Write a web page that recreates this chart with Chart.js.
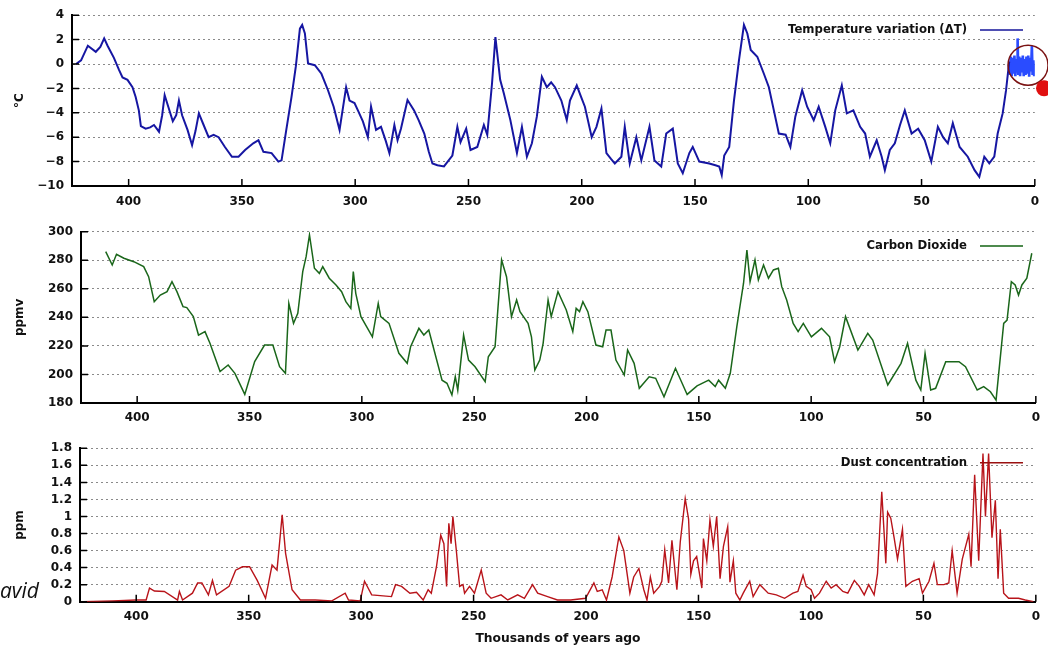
<!DOCTYPE html>
<html>
<head>
<meta charset="utf-8">
<script src="https://cdn.jsdelivr.net/npm/chart.js@4.4.0/dist/chart.umd.min.js"></script>
<style>
body { margin: 0; background: #fff; width: 1048px; height: 646px; overflow: hidden; position: relative; }
canvas { position: absolute; left: 0; }
#sig { position: absolute; left: 0; top: 576px; font: italic 21px "Open Sans", sans-serif; color: #111; }
</style>
</head>
<body>
<canvas id="tempChart" width="1048" height="212" style="top:0px"></canvas>
<canvas id="co2Chart" width="1048" height="230" style="top:210px"></canvas>
<canvas id="dustChart" width="1048" height="226" style="top:420px"></canvas>
<div id="sig">avid</div>
<script>
// x axis: thousands of years ago (reversed, 425 -> 0)
var ageTicks = [400, 350, 300, 250, 200, 150, 100, 50, 0];

// temperature variation, deg C
var tempAge = [423.2, 421, 418, 414.5, 412.5, 410.8, 409.3, 406.5, 404.2, 402.7, 400.5, 398.3, 396.9, 395.5, 394.6, 392.5, 390.5, 388.8, 386.6, 385.2,
    384.1, 382.5, 380.5, 379, 377.8, 376.4, 374, 372, 370.5, 369, 366.9, 364.7, 362.5, 360.3, 357.5, 354.4, 351.5, 348.6, 345, 342.7,
    340.5, 336.9, 333.9, 332.5, 330.5, 328.1, 326.2, 324.4, 323.4, 322.2, 320.8, 317.8, 314.9, 312, 309.5, 306.9, 304, 302.5, 300.3, 298.8,
    296.6, 294.4, 293, 290.8, 288.6, 286.5, 284.9, 282.7, 281.3, 279.8, 276.9, 274, 272, 269.5, 267.5, 265.9, 263.7, 260.8, 257.1, 254.9,
    253.5, 251, 249.1, 246.1, 243.2, 241.7, 239.6, 238.1, 236, 234.4, 231.5, 228.6, 226.4, 224.2, 222, 219.8, 217.6, 215.4, 213.5, 211.8,
    209, 206.6, 205.2, 202.2, 200.5, 198.6, 195.6, 193.5, 191.3, 189.1, 187, 185.4, 182.5, 181, 178.8, 175.9, 173.7, 170.1, 167.9, 164.9,
    162.7, 159.8, 157.6, 155.4, 152.5, 151, 148.1, 143.7, 141, 139.3, 138.2, 137.1, 134.9, 132.8, 130.6, 128.4, 126.9, 125.4, 122.5, 119.6,
    117.4, 115.2, 113, 110, 107.9, 105.7, 102.7, 100.5, 97.6, 95.4, 92.5, 90.3, 88.1, 85.2, 83, 80.1, 77.1, 74.9, 72.8, 69.8,
    67.6, 66.2, 64, 61.8, 59.5, 57.4, 54.4, 51.5, 48.6, 45.7, 42.8, 40.5, 38.4, 36.2, 33.2, 29.6, 26.6, 24.5, 22.3, 20.1,
    17.9, 16.4, 14.2, 12.7, 11.3];
var tempVal = [0.0, 0.3, 1.5, 1.0, 1.4, 2.1, 1.5, 0.5, -0.5, -1.1, -1.3, -1.9, -2.7, -3.8, -5.1, -5.3, -5.2, -5.0, -5.55, -4.2,
    -2.55, -3.5, -4.7, -4.2, -3.0, -4.2, -5.4, -6.65, -5.5, -4.05, -5.0, -6.0, -5.8, -6.0, -6.8, -7.6, -7.6, -7.05, -6.5, -6.25,
    -7.2, -7.3, -8.0, -7.9, -5.5, -2.7, -0.2, 2.9, 3.2, 2.5, 0.05, -0.1, -0.8, -2.15, -3.5, -5.4, -1.9, -3.0, -3.2, -3.8,
    -4.7, -6.0, -3.5, -5.4, -5.15, -6.3, -7.3, -5.0, -6.25, -5.3, -2.95, -3.8, -4.6, -5.7, -7.2, -8.15, -8.3, -8.4, -7.5, -5.15,
    -6.4, -5.3, -7.05, -6.8, -5.0, -5.8, -1.6, 2.2, -1.3, -2.4, -4.6, -7.3, -5.15, -7.6, -6.5, -4.3, -1.05, -1.9, -1.5, -1.9,
    -3.0, -4.6, -3.0, -1.75, -2.6, -3.5, -6.0, -5.15, -3.65, -7.3, -7.8, -8.15, -7.6, -5.15, -8.15, -6.0, -7.9, -5.15, -7.9, -8.4,
    -5.7, -5.3, -8.15, -8.95, -7.3, -6.8, -8.0, -8.15, -8.3, -8.4, -9.1, -7.5, -6.8, -3.0, 0.3, 3.2, 2.5, 1.15, 0.6, -0.8,
    -1.9, -3.8, -5.7, -5.8, -6.8, -4.3, -2.15, -3.5, -4.6, -3.5, -5.15, -6.5, -3.8, -1.75, -4.05, -3.8, -5.15, -5.7, -7.6, -6.25,
    -7.6, -8.7, -7.05, -6.5, -5.0, -3.8, -5.7, -5.3, -6.25, -8.0, -5.15, -6.0, -6.5, -4.85, -6.8, -7.6, -8.7, -9.25, -7.6, -8.15,
    -7.6, -5.7, -4.05, -2.15, 0.2];
// last ~11 ky, drawn brighter
var recentAge = [11.3, 11.0, 10.6, 10.2, 9.8, 9.4, 9.0, 8.6, 8.2, 7.8, 7.6, 7.3, 6.9, 6.5, 6.1, 5.7, 5.3, 4.9, 4.5, 4.1,
    3.7, 3.3, 2.9, 2.5, 2.1, 1.7, 1.3, 1.0, 0.6, 0.3];
var recentVal = [0.2, -0.9, 0.6, -1.0, 0.5, -0.8, 0.7, -1.0, 0.4, -0.6, 2.1, -0.9, 0.6, -1.0, 0.5, -0.7, 0.7, -1.0, 0.4, -0.9,
    0.6, -0.8, 0.7, -1.05, 0.5, -0.6, 1.5, -0.9, 0.3, -1.0];

// carbon dioxide, ppmv
var co2Age = [414, 411.1, 409.2, 405.9, 401.5, 397.1, 394.9, 392.4, 389.7, 386.7, 384.5, 382.3, 379.6, 377.9, 375, 372.7, 369.8, 367.6, 363.1, 359.5,
    356.5, 352.1, 347.7, 343.3, 339.6, 336.6, 334, 332.5, 330.4, 328.5, 326.3, 324.8, 323.3, 321.1, 318.9, 317.4, 314.5, 311.5, 309, 307.1,
    304.9, 303.8, 302.7, 300.4, 295.3, 292.7, 291.6, 287.9, 283.5, 279.8, 278.3, 274.6, 272.4, 270.2, 264.3, 262.1, 259.9, 258.4, 257.3, 254.7,
    252.5, 249.6, 245.1, 243.7, 240.7, 237.8, 235.6, 233.4, 231.1, 229.6, 226, 224.5, 223, 220.8, 219.3, 217.1, 215.7, 212.7, 209, 206.1,
    204.6, 203.1, 201.6, 199.4, 195.8, 192.8, 191.3, 189.1, 186.9, 183.2, 181.7, 178.8, 176.5, 172.1, 169.2, 165.5, 160.4, 155.2, 150.8, 145.6,
    142.7, 141.2, 138.2, 136, 133.1, 130.1, 128.6, 127.2, 125, 123.5, 121.2, 119, 116.8, 114.6, 113.1, 110.9, 108, 105.8, 103.5, 99.9,
    95.4, 91.8, 89.6, 87.3, 84.7, 79.2, 74.8, 72.6, 65.9, 60, 57.1, 53.4, 51.2, 49.3, 46.8, 44.6, 40.1, 34.2, 31.3, 26.1,
    23.2, 20.2, 17.7, 14.3, 12.8, 10.9, 9.2, 7.7, 6.2, 4, 1.8];
var co2Val = [286, 276.7, 284.2, 281.4, 279, 275.5, 268.5, 251, 255.6, 258, 265, 258, 247.5, 246.8, 240.5, 227.6, 230, 221.8, 202, 206.6,
    200.8, 186, 209, 220.6, 220.6, 205.4, 200.8, 249.8, 235.8, 242.8, 272, 282.5, 297.7, 274.4, 270.8, 275.5, 267.4, 262.7, 258, 251,
    246.3, 272, 256.8, 240.5, 226.4, 249.8, 240.5, 235.8, 214.8, 207.8, 219.4, 232.3, 227.6, 231.1, 196, 193.8, 185.6, 198.4, 189, 227.6,
    210.1, 205.4, 195, 212.4, 219.4, 280.2, 268.5, 240.5, 252.2, 244, 235.8, 226.4, 203.1, 210.1, 221.8, 252.2, 240.5, 258, 245.2, 230,
    246.3, 244, 251, 244, 220.6, 219.4, 231.1, 231.1, 210.1, 199.6, 217.1, 207.8, 190.3, 198.4, 197.3, 184.4, 204.3, 186, 192, 196,
    191.5, 196, 190.3, 200.8, 233.4, 263.9, 287.2, 265, 280.2, 266.2, 276.7, 267.4, 273.2, 274.4, 261.5, 252.2, 235.8, 230, 235.8, 226.4,
    232.3, 226.4, 208.9, 219.4, 240.5, 217.1, 228.8, 224.1, 192.6, 207.8, 221.8, 196, 189.1, 214.8, 189.1, 190.3, 208.9, 208.9, 205.4, 189.1,
    191.5, 187.9, 182, 235.8, 238.1, 265, 262.7, 255.6, 262.7, 267.4, 284.9];

// dust concentration, ppm
var dustAge = [423.6, 410.4, 400, 395.6, 394.1, 391.9, 387.5, 381.6, 380.8, 379.4, 375, 372.7, 370.8, 367.9, 366.1, 364.3, 358.7, 355.8, 352.8, 349.6,
    346.2, 342.5, 339.6, 337.4, 335.1, 333.6, 330.7, 327, 320.4, 313, 307.1, 305.6, 300.4, 298.5, 295.3, 286.5, 284.7, 282, 278.3, 275.4,
    272.4, 270.2, 268.8, 266.5, 264.6, 263.2, 262, 261, 260, 259.2, 257.7, 256.2, 254.7, 254, 251.8, 249.6, 246.6, 244.4, 242.2, 237.8,
    234.8, 230.4, 227.4, 223.8, 221.5, 217.1, 212.7, 206.8, 200.2, 196.5, 195, 192.8, 190.9, 188.4, 185.4, 183.2, 180.5, 178.8, 176.5, 174.3,
    172.9, 171.4, 169.9, 167.3, 166.3, 165, 163.3, 161.8, 159.6, 158.1, 155.9, 154.4, 153.4, 152.2, 150.8, 148.5, 147.8, 146.3, 144.9, 143.4,
    141.9, 140.4, 138.9, 137, 136, 134.5, 133.4, 131.6, 130.1, 127.2, 125.7, 122.7, 119, 115.4, 111.7, 108, 105.8, 103.5, 102.1, 99.9,
    98.4, 96.2, 93.2, 91, 88.8, 85.8, 83.6, 80.7, 78.5, 76.3, 74.3, 71.9, 70.4, 68.5, 66.7, 65.9, 64.5, 63, 61.5, 59.3,
    57.8, 54.9, 51.9, 50.4, 47.5, 45.3, 43.8, 40.9, 38.7, 37.2, 35, 32.7, 29.8, 28.8, 27.2, 25.4, 23.5, 22.4, 21, 19.5,
    18, 16.8, 15.8, 14.3, 12.1, 7.7, 4.7, 1.1];
var dustVal = [0, 0.01, 0.02, 0.02, 0.16, 0.125, 0.12, 0.02, 0.12, 0.02, 0.1, 0.22, 0.22, 0.08, 0.25, 0.08, 0.18, 0.37, 0.41, 0.41,
    0.25, 0.04, 0.43, 0.37, 1.02, 0.57, 0.14, 0.02, 0.02, 0.01, 0.1, 0.02, 0.01, 0.24, 0.08, 0.06, 0.2, 0.18, 0.1, 0.11,
    0.02, 0.14, 0.1, 0.41, 0.78, 0.68, 0.18, 0.92, 0.68, 1.0, 0.61, 0.18, 0.2, 0.1, 0.18, 0.1, 0.37, 0.1, 0.04, 0.08,
    0.02, 0.08, 0.04, 0.2, 0.1, 0.06, 0.02, 0.02, 0.04, 0.22, 0.12, 0.14, 0.02, 0.29, 0.76, 0.6, 0.1, 0.29, 0.39, 0.14,
    0.02, 0.29, 0.1, 0.18, 0.24, 0.61, 0.22, 0.72, 0.14, 0.7, 1.21, 0.97, 0.32, 0.48, 0.53, 0.16, 0.74, 0.48, 0.96, 0.65,
    1.0, 0.27, 0.65, 0.88, 0.23, 0.48, 0.1, 0.02, 0.1, 0.24, 0.06, 0.2, 0.1, 0.08, 0.04, 0.1, 0.12, 0.31, 0.18, 0.14,
    0.04, 0.1, 0.24, 0.16, 0.2, 0.12, 0.1, 0.25, 0.18, 0.08, 0.2, 0.08, 0.33, 1.29, 0.45, 1.05, 0.98, 0.75, 0.5, 0.85,
    0.18, 0.24, 0.27, 0.1, 0.24, 0.45, 0.2, 0.2, 0.22, 0.6, 0.1, 0.5, 0.79, 0.41, 1.49, 0.48, 1.74, 1.0, 1.74, 0.75,
    1.19, 0.27, 0.85, 0.1, 0.04, 0.04, 0.02, 0];

var TICK_FONT = { family: "'DejaVu Sans', sans-serif", size: 12, weight: 'bold' };

function pairs(xs, ys) {
    var out = [];
    for (var i = 0; i < xs.length; i++) {
        out.push({ x: xs[i], y: ys[i] });
    }
    return out;
}

// gnuplot look: inward tick marks + legend key (text, then a line sample)
var gnuplotStyle = {
    id: 'gnuplotStyle',
    afterDraw: function(chart, args, opts) {
        var ctx = chart.ctx;
        var area = chart.chartArea;
        var xs = chart.scales.x, ys = chart.scales.y;
        ctx.save();
        ctx.strokeStyle = '#000';
        ctx.lineWidth = 1.5;
        ctx.beginPath();
        xs.ticks.forEach(function(t) {
            var px = xs.getPixelForValue(t.value);
            ctx.moveTo(px, area.bottom);
            ctx.lineTo(px, area.bottom - 7);
        });
        ys.ticks.forEach(function(t) {
            var py = ys.getPixelForValue(t.value);
            ctx.moveTo(area.left, py);
            ctx.lineTo(area.left + 7, py);
        });
        ctx.stroke();

        ctx.font = "bold 11.7px 'DejaVu Sans', sans-serif";
        ctx.fillStyle = '#111';
        ctx.textAlign = 'right';
        ctx.textBaseline = 'middle';
        ctx.fillText(opts.text, 967, opts.y);
        ctx.strokeStyle = opts.color;
        ctx.lineWidth = 1.5;
        ctx.beginPath();
        ctx.moveTo(980, opts.y);
        ctx.lineTo(1023, opts.y);
        ctx.stroke();

        if (opts.ring) {
            var cx = xs.getPixelForValue(opts.ring.x);
            var cy = ys.getPixelForValue(opts.ring.y);
            ctx.strokeStyle = '#7a1212';
            ctx.lineWidth = 1.5;
            ctx.beginPath();
            ctx.arc(cx, cy, 20, 0, Math.PI * 2);
            ctx.stroke();
            ctx.fillStyle = '#e01010';
            ctx.beginPath();
            ctx.arc(cx + 16, cy + 23, 8, 0, Math.PI * 2);
            ctx.fill();
        }
        ctx.restore();
    }
};

function makePanel(id, p) {
    return new Chart(document.getElementById(id), {
        type: 'line',
        data: { datasets: p.datasets },
        options: {
            responsive: false,
            animation: false,
            layout: { padding: { top: p.top, right: 7, bottom: 0, left: 0 } },
            elements: { point: { radius: 0 }, line: { tension: 0 } },
            plugins: {
                legend: { display: false },
                tooltip: { enabled: false },
                gnuplotStyle: p.key
            },
            scales: {
                x: {
                    type: 'linear',
                    reverse: true,
                    min: 0,
                    max: 425,
                    afterFit: function(s) { s.height = p.xHeight; },
                    afterBuildTicks: function(s) { s.ticks = ageTicks.map(function(v) { return { value: v }; }); },
                    grid: { display: false, drawTicks: false },
                    border: { display: true, color: '#000', width: 2 },
                    ticks: { color: '#111', font: TICK_FONT, padding: p.xPad, maxRotation: 0, autoSkip: false },
                    title: {
                        display: !!p.xTitle,
                        text: p.xTitle || '',
                        color: '#111',
                        font: { family: "'DejaVu Sans', sans-serif", size: 12.3, weight: 'bold' },
                        padding: { top: 0, bottom: 0 }
                    }
                },
                y: {
                    min: p.yMin,
                    max: p.yMax,
                    afterFit: function(s) { s.width = p.left; },
                    ticks: {
                        stepSize: p.yStep,
                        autoSkip: false,
                        color: '#111',
                        font: TICK_FONT,
                        padding: 8,
                        callback: p.yFormat
                    },
                    grid: { color: '#8a8a8a', lineWidth: 1, drawTicks: false },
                    border: { display: true, color: '#000', width: 2, dash: [2, 3] },
                    title: {
                        display: true,
                        text: p.yTitle,
                        color: '#111',
                        font: { family: "'DejaVu Sans', sans-serif", size: 12, weight: 'bold' },
                        padding: { top: 13, bottom: 0 }
                    }
                }
            }
        },
        plugins: [gnuplotStyle]
    });
}

makePanel('tempChart', {
    top: 15, left: 72, xHeight: 26, xPad: 9,
    yMin: -10, yMax: 4, yStep: 2, yTitle: '°C',
    yFormat: function(v) { return String(v).replace('-', '\u2212'); },
    key: { text: 'Temperature variation (\u0394T)', y: 30, color: '#14149a', ring: { x: 3, y: -0.1 } },
    datasets: [
        { data: pairs(tempAge, tempVal), borderColor: '#1616a2', borderWidth: 2 },
        { data: pairs(recentAge, recentVal), borderColor: '#2a4cff', borderWidth: 2.6 }
    ]
});

makePanel('co2Chart', {
    top: 21.7, left: 81, xHeight: 37, xPad: 8,
    yMin: 180, yMax: 300, yStep: 20, yTitle: 'ppmv',
    key: { text: 'Carbon Dioxide', y: 36, color: '#136313' },
    datasets: [
        { data: pairs(co2Age, co2Val), borderColor: '#1a661a', borderWidth: 1.5 }
    ]
});

makePanel('dustChart', {
    top: 28.3, left: 80, xHeight: 44.3, xPad: 8, xTitle: 'Thousands of years ago',
    yMin: 0, yMax: 1.8, yStep: 0.2, yTitle: 'ppm',
    key: { text: 'Dust concentration', y: 42.7, color: '#9a1010' },
    datasets: [
        { data: pairs(dustAge, dustVal), borderColor: '#b8141a', borderWidth: 1.4 }
    ]
});
</script>
</body>
</html>
